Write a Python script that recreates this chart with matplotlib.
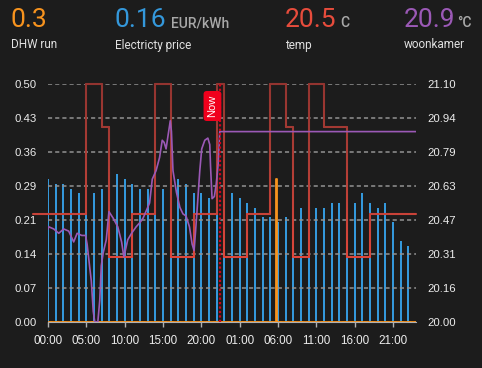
import numpy as np
import matplotlib
matplotlib.use('Agg')
import matplotlib.pyplot as plt
from matplotlib.collections import LineCollection
from matplotlib.colors import LinearSegmentedColormap

plt.rcParams['font.family'] = ['Liberation Sans', 'DejaVu Sans']

# ---- data ----
price_hours = list(range(48))
price = [0.30, 0.29, 0.29, 0.28, 0.27, 0.27, 0.27, 0.28, 0.29, 0.31, 0.30, 0.29,
         0.28, 0.28, 0.27, 0.28, 0.28, 0.30, 0.29, 0.27, 0.27, 0.26, 0.26, 0.25,
         0.27, 0.26, 0.25, 0.24, 0.22, 0.22, 0.21, 0.22, 0.24, 0.24, 0.24, 0.24,
         0.24, 0.25, 0.25, 0.26, 0.25, 0.27, 0.25, 0.24, 0.25, 0.21, 0.17, 0.16]

dhw_hours = [0, 29.8, 29.8, 29.9, 29.9, 48]
dhw = [0, 0, 0.30, 0.30, 0, 0]

temp_hours = [-2, 5, 7, 8, 11, 14, 16, 19, 22, 23, 26, 29, 31, 32, 34, 36, 39, 42, 48]
temp = [20.5, 21.1, 20.9, 20.3, 20.5, 21.1, 20.3, 20.5, 21.1, 20.3, 20.5, 21.1,
        20.9, 20.3, 21.1, 20.9, 20.3, 20.5, 20.5]

woon_hours = [0, 0.1, 0.75, 1.4, 2.05, 2.7, 3.35, 3.8, 4.4, 4.9, 5.1, 5.45, 5.65,
              5.9, 6.1, 6.5, 6.75, 6.95, 7.2, 7.6, 7.95, 8.5, 9.1, 9.6, 9.9,
              10.4, 10.9, 11.5, 12.0, 12.4, 13.25, 13.6, 14.1, 14.55, 14.9, 15.15,
              15.4, 15.65, 15.95, 16.1, 16.3, 16.75, 17.2, 17.6, 18.0, 18.45, 18.8,
              19.05, 19.25, 19.55, 19.8, 20.05, 20.45, 20.85, 21.1, 21.2, 21.4,
              21.7, 21.95, 22.2, 22.4, 48]
woon = [20.43, 20.44, 20.43, 20.41, 20.43, 20.42, 20.37, 20.41, 20.40, 20.40,
        20.36, 20.25, 20.19, 20.05, 20.00, 20.00, 20.10, 20.26, 20.32, 20.38,
        20.51, 20.48, 20.44, 20.37, 20.30, 20.38, 20.41, 20.44, 20.46, 20.48,
        20.55, 20.66, 20.70, 20.76, 20.84, 20.83, 20.80, 20.86, 20.93, 20.88,
        20.70, 20.60, 20.53, 20.50, 20.49, 20.44, 20.36, 20.33, 20.42, 20.57,
        20.70, 20.80, 20.84, 20.85, 20.82, 20.72, 20.57, 20.58, 20.64, 20.73,
        20.88, 20.88]

now_hour = 22.45

x_ticks = [0, 5, 10, 15, 20, 25, 30, 35, 40, 45]
x_labels = ['00:00', '05:00', '10:00', '15:00', '20:00', '01:00', '06:00',
            '11:00', '16:00', '21:00']
left_ticks = [0, 0.5 / 7, 1 / 7, 1.5 / 7, 2 / 7, 2.5 / 7, 3 / 7, 0.5]
left_labels = ['0.00', '0.07', '0.14', '0.21', '0.29', '0.36', '0.43', '0.50']
right_ticks = [20 + 1.1 * k / 7 for k in range(8)]
right_labels = ['20.00', '20.16', '20.31', '20.47', '20.63', '20.79', '20.94', '21.10']

BG = '#1c1c1c'
BLUE = '#3498db'
ORANGE = '#f7931e'
RED = '#e74c3c'
PURPLE = '#9b59b6'
TICK = '#ececec'

fig = plt.figure(figsize=(4.82, 3.68), dpi=100, facecolor=BG)
ax = fig.add_axes([48 / 482, 1 - 322 / 368, 368 / 482, 238 / 368])
ax.set_facecolor(BG)
ax2 = ax.twinx()

# price bars + DHW on the left scale
ax.bar(price_hours, price, width=0.27, color=BLUE, zorder=2)
ax.plot(dhw_hours, dhw, color=ORANGE, lw=1.3, zorder=3)

ax.set_xlim(0, 48)
ax.set_ylim(0, 0.5)
ax.set_yticks(left_ticks)
ax.set_yticklabels(left_labels)
ax.set_xticks(x_ticks)
ax.set_xticklabels(x_labels)
ax.grid(axis='y', color='#929292', lw=1.1, ls=(0, (2.7, 2.0)), zorder=1)
ax.set_axisbelow(False)
for s in ['top', 'left', 'right']:
    ax.spines[s].set_visible(False)
ax.spines['bottom'].set_color('#b0b0b0')
ax.tick_params(axis='x', colors='#b0b0b0', length=3.6, width=1, pad=5.5,
               labelcolor=TICK, labelsize=8.4)
ax.tick_params(axis='y', length=0, pad=8, labelcolor=TICK, labelsize=8.2)

# temp step line with vertical colour fade, woonkamer on the right scale
xs, ys = [], []
for i in range(len(temp_hours) - 1):
    xs += [temp_hours[i], temp_hours[i + 1]]
    ys += [temp[i], temp[i]]
px, py = [], []
for i in range(len(xs) - 1):
    t = np.linspace(0, 1, 40, endpoint=False)
    px.extend(xs[i] + (xs[i + 1] - xs[i]) * t)
    py.extend(ys[i] + (ys[i + 1] - ys[i]) * t)
px.append(xs[-1])
py.append(ys[-1])
px, py = np.array(px), np.array(py)
pts = np.column_stack([px, py]).reshape(-1, 1, 2)
segs = np.concatenate([pts[:-1], pts[1:]], axis=1)
cmap = LinearSegmentedColormap.from_list('fade', ['#de463a', '#b23e36', '#933430'])
lc = LineCollection(segs, cmap=cmap, norm=plt.Normalize(20.3, 21.1),
                    linewidths=1.5, capstyle='round', clip_on=False, zorder=3)
lc.set_array((py[:-1] + py[1:]) / 2)
ax2.add_collection(lc)

ax2.plot(woon_hours, woon, color=PURPLE, lw=1.2, zorder=4)

ax2.set_ylim(20, 21.1)
ax2.set_yticks(right_ticks)
ax2.set_yticklabels(right_labels)
ax2.tick_params(axis='y', length=0, pad=8, labelcolor=TICK, labelsize=8.2)
for s in ax2.spines.values():
    s.set_visible(False)

# now marker
ax2.axvline(now_hour, color='#d0021b', lw=1.6, ls=(0, (1, 1)), zorder=5)
ax2.text(now_hour - 1.0, 21.1 - 1.1 * (22 / 238), 'Now', rotation=90, color='white',
         fontsize=8, ha='center', va='center', zorder=6,
         bbox=dict(boxstyle='round,pad=0.35,rounding_size=0.3',
                   facecolor='#f0001c', edgecolor='none'))

# header
W, H = 482, 368
hdr = [(11, '0.3', ORANGE, 'DHW run', ''),
       (115, '0.16', BLUE, 'Electricty price', 'EUR/kWh'),
       (285, '20.5', RED, 'temp', 'C'),
       (404, '20.9', PURPLE, 'woonkamer', '°C')]
renderer = fig.canvas.get_renderer()
for x, val, col, lab, unit in hdr:
    t = fig.text(x / W, 1 - 27 / H, val, color=col, fontsize=19, family='Roboto',
                 va='baseline', ha='left')
    fig.text(x / W, 1 - 48.5 / H, lab, color='#e0e0e0', fontsize=8.5,
             family='Roboto', va='baseline', ha='left')
    if unit:
        x1 = t.get_window_extent(renderer).x1
        gap = 4 if unit != '°C' else 2
        fig.text((x1 + gap) / W, 1 - 27 / H, unit, color='#a8a8a8', fontsize=10,
                 family='Roboto', fontweight='medium', va='baseline', ha='left')

fig.savefig('out.png', dpi=100, facecolor=BG)
